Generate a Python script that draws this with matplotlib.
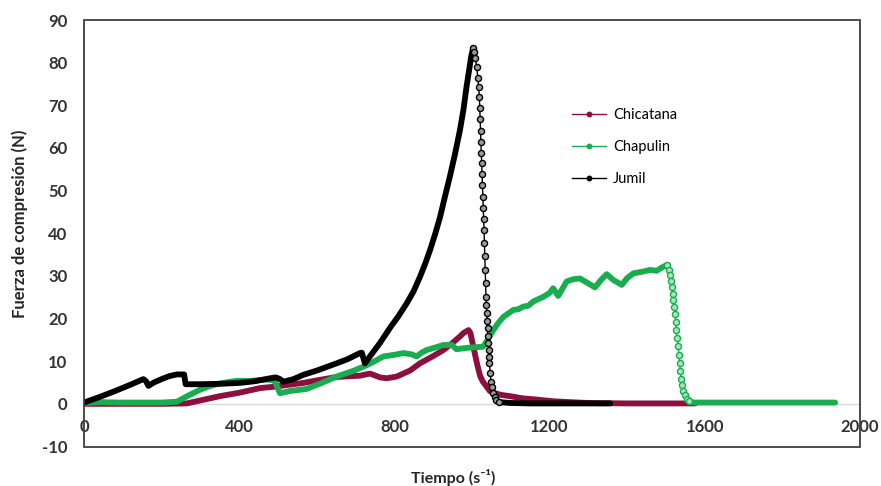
import numpy as np
import matplotlib
matplotlib.use("Agg")
import matplotlib.pyplot as plt
from matplotlib.lines import Line2D
from matplotlib.patches import Rectangle

plt.rcParams['font.family'] = ['Lato', 'DejaVu Sans']

# ---------------- data ----------------
chicatana_x = [0, 100, 200, 265, 300, 350, 400, 454, 488, 539, 565, 600, 651, 711, 737,
               763, 780, 806, 840, 866, 900, 926, 950, 969, 978, 991, 996, 1002, 1008,
               1014, 1021, 1028, 1034, 1046, 1055, 1075, 1098, 1130, 1167, 1210, 1253,
               1300, 1400, 1500, 1575]
chicatana_y = [0.0, 0.0, 0.0, 0.1, 0.8, 1.8, 2.6, 3.7, 4.0, 4.6, 4.9, 5.5, 6.3, 6.6, 7.1,
               6.2, 6.0, 6.4, 7.8, 9.5, 11.2, 12.6, 14.3, 15.8, 16.6, 17.3, 16.6, 14.0, 11.5,
               9.0, 6.5, 5.2, 4.5, 3.0, 2.6, 2.1, 1.8, 1.3, 1.0, 0.6, 0.4,
               0.2, 0.1, 0.1, 0.1]

chapulin_x = [0, 40, 93, 150, 200, 239, 270, 299, 325, 351, 393, 430, 471, 490, 498, 505,
              530, 574, 610, 651, 690, 720, 745, 771, 800, 823, 845, 857, 870, 883, 905,
              926, 948, 960, 975, 995, 1029, 1040, 1055, 1068, 1081, 1106, 1120, 1132,
              1145, 1158, 1184, 1200, 1209, 1222, 1244, 1260, 1278, 1295, 1317, 1332,
              1347, 1365, 1386, 1400, 1416, 1440, 1459, 1476, 1490, 1503,
              1507, 1510, 1513, 1515, 1517, 1519, 1521, 1523, 1525, 1527, 1529, 1531,
              1533, 1535, 1537, 1539, 1541, 1544, 1548, 1553, 1559, 1566, 1575,
              1650, 1700, 1750, 1800, 1850, 1900, 1936]
chapulin_y = [0.2, 0.4, 0.3, 0.3, 0.3, 0.5, 2.0, 3.3, 4.2, 4.8, 5.4, 5.4, 5.7, 5.5, 4.0, 2.5,
              3.0, 3.5, 4.8, 6.4, 7.6, 8.7, 9.8, 11.1, 11.5, 11.9, 11.6, 11.1, 12.0, 12.6, 13.2,
              13.8, 13.8, 12.8, 13.0, 13.2, 13.4, 15.0, 17.3, 19.0, 20.4, 22.0, 22.2, 22.8,
              23.0, 24.0, 25.1, 26.0, 27.1, 25.3, 28.7, 29.2, 29.4, 28.5, 27.3, 29.0,
              30.4, 29.0, 27.9, 29.5, 30.6, 31.0, 31.4, 31.2, 32.0, 32.6,
              31.5, 30.2, 28.8, 27.3, 25.8, 24.3, 22.8, 21.0, 19.2, 17.3, 15.4, 13.5,
              11.5, 9.5, 7.6, 5.9, 4.4, 3.1, 2.0, 1.2, 0.7, 0.4, 0.3,
              0.3, 0.3, 0.3, 0.3, 0.3, 0.3, 0.3]

jumil_x = [0, 40, 80, 120, 153, 160, 166, 180, 200, 220, 239, 258, 262, 300, 350, 400, 440,
           480, 495, 505, 514, 540, 565, 600, 630, 651, 680, 711, 716, 724, 740, 763, 790,
           810, 832, 850, 866, 880, 892, 905, 918, 930, 943, 956, 969, 978, 986, 993, 998,
           1003, 1006, 1009, 1012, 1015, 1017, 1019, 1020, 1021, 1022, 1023, 1024, 1025,
           1026, 1027, 1028, 1029, 1030, 1031, 1032, 1033, 1034, 1035, 1036, 1037, 1038,
           1039, 1040, 1041, 1042, 1043, 1044, 1045, 1047, 1049, 1051, 1054, 1058, 1063,
           1070, 1100, 1150, 1200, 1250, 1300, 1356]
jumil_y = [0.3, 1.6, 3.0, 4.5, 5.8, 5.3, 4.2, 5.0, 5.8, 6.5, 6.9, 6.9, 4.6, 4.6, 4.7, 4.9, 5.3,
           6.0, 6.2, 5.8, 5.2, 5.8, 6.8, 7.8, 8.8, 9.5, 10.5, 11.9, 12.0, 9.5, 11.5, 14.3, 18.0,
           20.5, 23.6, 26.5, 29.8, 33.0, 36.1, 39.8, 43.9, 48.5, 53.3, 58.5, 64.2, 69.0, 74.4,
           78.5, 81.5,
           83.4, 82.6, 81.0, 79.0, 76.5, 74.3, 72.0, 69.4, 66.7, 64.0, 61.3, 58.7, 56.4,
           53.8, 51.2, 48.6, 46.0, 43.4, 40.8, 37.8, 34.7, 31.5, 28.3, 25.1, 23.2, 21.3,
           19.5, 17.7, 15.9, 14.2, 12.6, 11.0, 9.5, 7.2, 5.2, 3.9, 2.6, 1.5, 0.8,
           0.4, 0.2, 0.1, 0.1, 0.1, 0.1, 0.1]

series_names = ["Chicatana", "Chapulin", "Jumil"]
series_colors = ["#8c0f3f", "#18ad4e", "#000000"]
face_colors = ["#c9859f", "#a8e4bc", "#9a9a9a"]
thin_drop = [False, True, True]

x_ticks = [0, 400, 800, 1200, 1600, 2000]
y_ticks = [-10, 0, 10, 20, 30, 40, 50, 60, 70, 80, 90]

# ---------------- figure ----------------
fig = plt.figure(figsize=(8.81, 4.86), dpi=100)
ax = fig.add_axes([84 / 881, 1 - 446.5 / 486, (860 - 84) / 881, (446.5 - 20) / 486])

data = [(chicatana_x, chicatana_y), (chapulin_x, chapulin_y), (jumil_x, jumil_y)]
for (xs, ys), name, col, fc, thin in zip(data, series_names, series_colors, face_colors, thin_drop):
    xs = np.asarray(xs, float)
    ys = np.asarray(ys, float)
    if thin:
        ip = int(np.argmax(ys))
        after = np.where(ys[ip:] < 0.8)[0]
        ie = ip + int(after[0]) if len(after) else len(ys)
        ax.plot(xs[:ip + 1], ys[:ip + 1], color=col, lw=4.2, solid_capstyle='round', zorder=2)
        ax.plot(xs[ie:], ys[ie:], color=col, lw=4.2, solid_capstyle='round', zorder=2)
        ax.plot(xs[ip:ie + 1], ys[ip:ie + 1], color=col, lw=1.0, marker='o', ms=4.4,
                mfc=fc, mec=col, mew=1.0, zorder=3)
    else:
        ax.plot(xs, ys, color=col, lw=4.2, solid_capstyle='round', zorder=2)

ax.set_xlim(0, 2000)
ax.set_ylim(-10, 90)

# axis line at y = 0 (light gray), outer frame dark
for s in ['top', 'right', 'left']:
    ax.spines[s].set_visible(False)
ax.spines['bottom'].set_position(('data', 0))
ax.spines['bottom'].set_color('#d9d9d9')
ax.spines['bottom'].set_linewidth(1.0)
ax.spines['bottom'].set_zorder(1)
ax.add_patch(Rectangle((0, 0), 1, 1, transform=ax.transAxes, fill=False,
                       edgecolor='#3f3f3f', lw=1.3, clip_on=False, zorder=5))

ax.set_xticks(x_ticks)
ax.set_yticks(y_ticks)
ax.set_xticklabels([str(v) for v in x_ticks])
ax.set_yticklabels([str(v) for v in y_ticks])
ax.tick_params(axis='both', length=0, labelsize=12, labelcolor='#333333')
ax.tick_params(axis='x', pad=11)
ax.tick_params(axis='y', pad=12)
for lab in ax.get_xticklabels() + ax.get_yticklabels():
    lab.set_fontweight('bold')

ax.set_xlabel('Tiempo (s\u207b\u00b9)', fontsize=11.5, fontweight='bold', color='#262626')
ax.xaxis.set_label_coords((453 - 84) / 776, -0.052)
ax.set_ylabel('Fuerza de compresión (N)', fontsize=12, fontweight='bold', color='#262626')
ax.yaxis.set_label_coords(-0.072, (446.5 - 224) / 426.5)

handles = [Line2D([0], [0], color=c, lw=1.0, marker='o', ms=3.2, mfc=c, mec=c)
           for c in series_colors]
ax.legend(handles, series_names, loc='upper left', bbox_to_anchor=(572 / 881, 1 - 108 / 486),
          bbox_transform=fig.transFigure, frameon=False, fontsize=10.5, handlelength=2.3,
          handletextpad=0.5, labelspacing=1.25, borderpad=0, borderaxespad=0)

fig.savefig('out.png', dpi=100)
